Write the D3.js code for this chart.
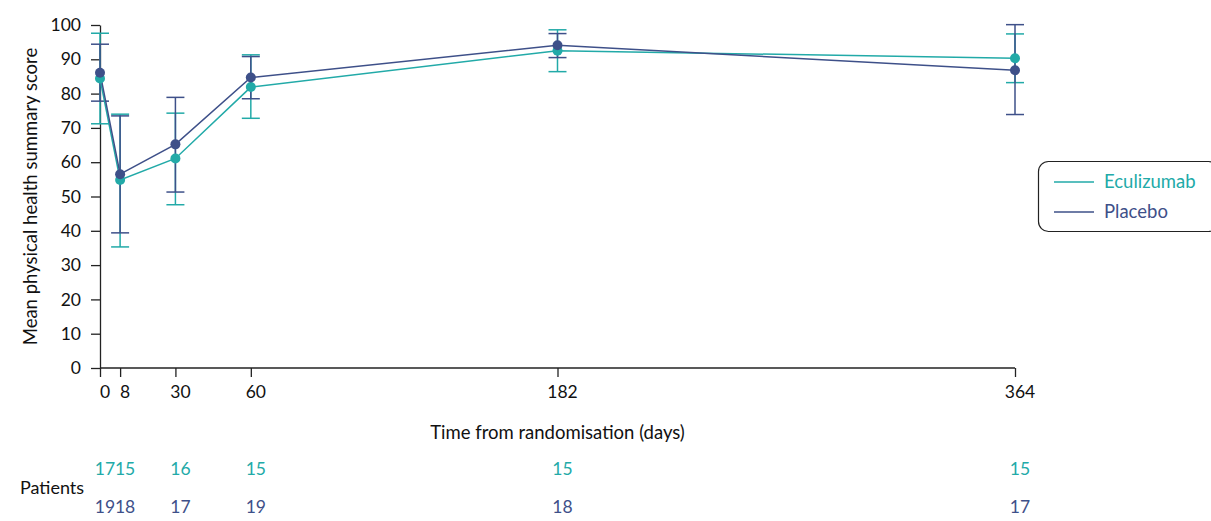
<!DOCTYPE html>
<html>
<head>
<meta charset="utf-8">
<script src="https://cdn.jsdelivr.net/npm/d3@7"></script>
<style>
  html, body { margin: 0; padding: 0; background: #fff; }
  svg { display: block; font-family: Lato, "Open Sans", sans-serif; }
</style>
</head>
<body>
<svg id="chart" width="1211" height="521"></svg>
<script>
// Time points (days from randomisation)
const days = [0, 8, 30, 60, 182, 364];
const yTicks = [0, 10, 20, 30, 40, 50, 60, 70, 80, 90, 100];

// Eculizumab: mean and error-bar limits
const eculizumabMean  = [84.4, 54.8, 61.1, 81.9, 92.5, 90.3];
const eculizumabLower = [71.2, 35.3, 47.6, 72.8, 86.4, 83.2];
const eculizumabUpper = [97.6, 74.0, 74.3, 91.3, 98.6, 97.4];
const eculizumabN     = [17, 15, 16, 15, 15, 15];

// Placebo: mean and error-bar limits
const placeboMean  = [86.1, 56.5, 65.2, 84.7, 94.1, 86.8];
const placeboLower = [77.8, 39.4, 51.3, 78.5, 90.5, 73.9];
const placeboUpper = [94.4, 73.5, 78.9, 90.8, 97.5, 100.1];
const placeboN     = [19, 18, 17, 19, 18, 17];

const series = [
  { name: "Eculizumab", color: "#22aaa8", mean: eculizumabMean, lower: eculizumabLower, upper: eculizumabUpper, n: eculizumabN },
  { name: "Placebo", color: "#3e5089", mean: placeboMean, lower: placeboLower, upper: placeboUpper, n: placeboN }
];

const svg = d3.select("#chart");
const x = d3.scaleLinear().domain([0, 364]).range([100, 1015]);
const y = d3.scaleLinear().domain([0, 100]).range([368, 25]);

// Axes
const xAxis = svg.append("g")
  .attr("transform", `translate(0,${y(0)})`)
  .call(d3.axisBottom(x).tickValues(days).tickSize(9).tickPadding(9).tickSizeOuter(0));
const yAxis = svg.append("g")
  .attr("transform", `translate(${x(0)},0)`)
  .call(d3.axisLeft(y).tickValues(yTicks).tickSize(9).tickPadding(10).tickSizeOuter(0));
[xAxis, yAxis].forEach(g => {
  g.selectAll("path, line").attr("stroke", "#222").attr("stroke-width", 1.3);
  g.selectAll("text").attr("fill", "#111").style("font-size", "17.5px").style("font-family", "Lato, sans-serif");
});
xAxis.selectAll(".tick text").attr("dx", 4.5);
xAxis.select(".domain").attr("d", `M${x(0)},0H${x(364)}`);

// Axis titles
svg.append("text")
  .attr("transform", `translate(37,${y(50)}) rotate(-90)`)
  .attr("text-anchor", "middle")
  .style("font-size", "18.5px").attr("fill", "#111")
  .text("Mean physical health summary score");
svg.append("text")
  .attr("x", x(182)).attr("y", 439)
  .attr("text-anchor", "middle")
  .style("font-size", "18.5px").attr("fill", "#111")
  .text("Time from randomisation (days)");

// Error bars
const cap = 9;
series.forEach(s => {
  const g = svg.append("g");
  days.forEach((d, i) => {
    const cx = x(d);
    g.append("line").attr("x1", cx).attr("x2", cx)
      .attr("y1", y(s.lower[i])).attr("y2", y(s.upper[i]))
      .attr("stroke", s.color).attr("stroke-width", 1.5);
    [s.lower[i], s.upper[i]].forEach(v => {
      g.append("line").attr("x1", cx - cap).attr("x2", cx + cap)
        .attr("y1", y(v)).attr("y2", y(v))
        .attr("stroke", s.color).attr("stroke-width", 1.5);
    });
  });
});

// Mean lines and markers
const line = d3.line().x((d, i) => x(days[i])).y(d => y(d));
series.forEach(s => {
  svg.append("path").datum(s.mean)
    .attr("d", line).attr("fill", "none")
    .attr("stroke", s.color).attr("stroke-width", 1.5);
});
series.forEach(s => {
  svg.append("g").selectAll("circle").data(s.mean).join("circle")
    .attr("cx", (d, i) => x(days[i])).attr("cy", d => y(d))
    .attr("r", 5).attr("fill", s.color);
});

// Legend
const lg = svg.append("g");
lg.append("rect").attr("x", 1038.5).attr("y", 161.5).attr("width", 180).attr("height", 70)
  .attr("rx", 10).attr("fill", "#fff").attr("stroke", "#222").attr("stroke-width", 1.2);
series.forEach((s, i) => {
  const ly = 182 + i * 30;
  lg.append("line").attr("x1", 1054).attr("x2", 1094).attr("y1", ly).attr("y2", ly)
    .attr("stroke", s.color).attr("stroke-width", 1.5);
  lg.append("text").attr("x", 1104).attr("y", ly).attr("dy", "0.35em")
    .style("font-size", "18.5px").attr("fill", s.color).text(s.name);
});

// Patients at risk table
svg.append("text").attr("x", 20).attr("y", 488).attr("dy", "0.35em")
  .style("font-size", "18px").attr("fill", "#111").text("Patients");
series.forEach((s, si) => {
  const ty = 469 + si * 38;
  svg.append("g").selectAll("text").data(s.n).join("text")
    .attr("x", (d, i) => x(days[i]) + 5).attr("y", ty).attr("dy", "0.35em")
    .attr("text-anchor", "middle")
    .style("font-size", "17.5px").attr("fill", s.color).text(d => d);
});
</script>
</body>
</html>
